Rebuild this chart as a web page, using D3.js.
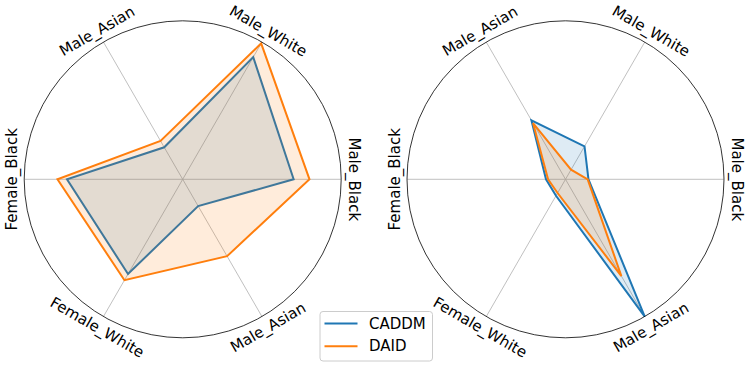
<!DOCTYPE html>
<html>
<head>
<meta charset="utf-8">
<script src="https://cdn.jsdelivr.net/npm/d3@7"></script>
<style>
  body { margin: 0; background: #fff; }
  text { font-family: "DejaVu Sans", sans-serif; }
</style>
</head>
<body>
<div id="chart"></div>
<script>
// categories around the radar, counter-clockwise from the right
const categories = ["Male_Black", "Male_White", "Male_Asian", "Female_Black", "Female_White", "Male_Asian"];
const seriesNames = ["CADDM", "DAID"];
const seriesColors = ["#1f77b4", "#ff7f0e"];

// left radar
const leftCaddm = [0.70, 0.89, 0.233, 0.73, 0.69, 0.195];
const leftDaid = [0.80, 0.99, 0.28, 0.79, 0.735, 0.56];
// right radar
const rightCaddm = [0.145, 0.24, 0.43, 0.123, 0.12, 1.0];
const rightDaid = [0.14, 0.07, 0.41, 0.11, 0.10, 0.705];

const width = 746, height = 366;
const radius = 158.5;

const svg = d3.select('#chart').append('svg')
    .attr('width', width)
    .attr('height', height);

const r = d3.scaleLinear().domain([0, 1]).range([0, radius]);

// math angle (ccw from east) -> d3 radial angle (cw from north)
const toRadial = i => Math.PI / 2 - i * Math.PI / 3;

function drawRadar(cx, cy, seriesList) {
    const g = svg.append('g').attr('transform', `translate(${cx},${cy})`);

    // spokes
    g.selectAll('line.spoke')
        .data(categories)
        .enter().append('line')
        .attr('class', 'spoke')
        .attr('x1', 0).attr('y1', 0)
        .attr('x2', (d, i) => r(1) * Math.cos(i * Math.PI / 3))
        .attr('y2', (d, i) => -r(1) * Math.sin(i * Math.PI / 3))
        .attr('stroke', '#b0b0b0')
        .attr('stroke-width', 0.8);

    const line = d3.lineRadial()
        .angle((d, i) => toRadial(i))
        .radius(d => r(d))
        .curve(d3.curveLinearClosed);

    seriesList.forEach((values, k) => {
        g.append('path')
            .attr('d', line(values))
            .attr('fill', 'none')
            .attr('stroke', seriesColors[k])
            .attr('stroke-width', 2)
            .attr('stroke-linejoin', 'miter');
        g.append('path')
            .attr('d', line(values))
            .attr('fill', seriesColors[k])
            .attr('fill-opacity', 0.15)
            .attr('stroke', 'none');
    });

    // outer frame
    g.append('circle')
        .attr('r', r(1))
        .attr('fill', 'none')
        .attr('stroke', '#000')
        .attr('stroke-width', 0.8);

    // category labels, rotated along the circle
    const labelR = radius + 12.5;
    g.selectAll('text.cat')
        .data(categories)
        .enter().append('text')
        .attr('class', 'cat')
        .attr('text-anchor', 'middle')
        .attr('dominant-baseline', 'central')
        .attr('font-size', 15)
        .attr('fill', '#000')
        .attr('transform', (d, i) => {
            const a = i * 60;
            const x = labelR * Math.cos(a * Math.PI / 180);
            const y = -labelR * Math.sin(a * Math.PI / 180);
            let rot = 90 - a;
            if (rot < -90) rot += 180;
            return `translate(${x},${y}) rotate(${rot})`;
        })
        .text(d => d);
}

drawRadar(182.7, 179.3, [leftCaddm, leftDaid]);
drawRadar(565.5, 179.3, [rightCaddm, rightDaid]);

// legend
const legend = svg.append('g').attr('transform', 'translate(320,311.5)');
legend.append('rect')
    .attr('width', 112.5)
    .attr('height', 49.5)
    .attr('rx', 3)
    .attr('fill', '#fff')
    .attr('fill-opacity', 0.8)
    .attr('stroke', '#cccccc')
    .attr('stroke-width', 1);

seriesNames.forEach((name, k) => {
    const y = 12 + k * 22.7;
    legend.append('line')
        .attr('x1', 4.5).attr('x2', 37.5)
        .attr('y1', y).attr('y2', y)
        .attr('stroke', seriesColors[k])
        .attr('stroke-width', 2);
    legend.append('text')
        .attr('x', 49)
        .attr('y', y)
        .attr('dominant-baseline', 'central')
        .attr('font-size', 15)
        .text(name);
});
</script>
</body>
</html>
